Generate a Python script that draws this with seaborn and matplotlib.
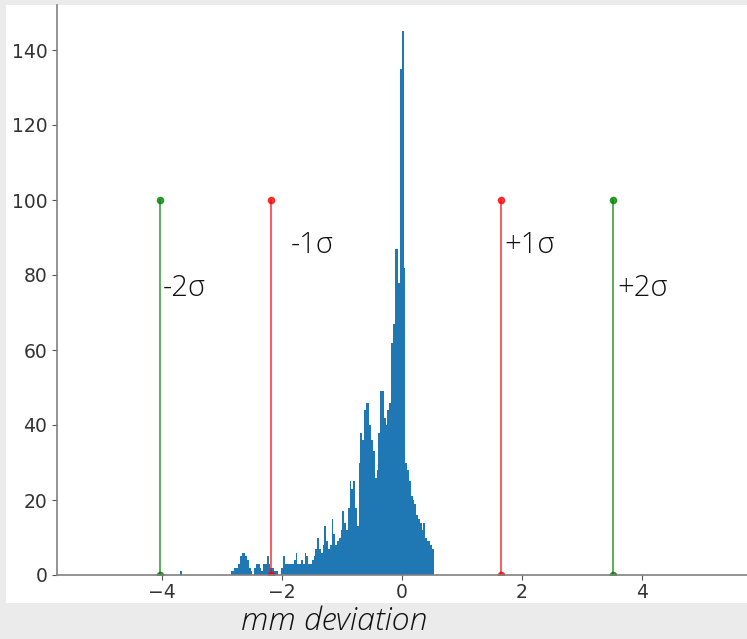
import numpy as np
import pandas as pd
import matplotlib
matplotlib.use("Agg")
import matplotlib.pyplot as plt
from matplotlib.patches import Rectangle
import seaborn as sns

# histogram: 0.03 mm bins starting at -3.695
bin_start = -3.695
bin_width = 0.03
outlier_counts = [1] + [0] * 27          # bins 0..27 (-3.695 .. -2.855)
counts = [1, 1, 2, 2, 3, 5, 6, 6, 5, 4, 2, 1, 0, 2, 3, 3, 2, 1, 3, 3,
          5, 3, 2, 2, 1, 1, 0, 0, 2, 5, 3, 3, 3, 3, 3, 4, 6, 3, 3, 4,
          3, 6, 5, 3, 3, 4, 5, 7, 10, 7, 6, 8, 13, 9, 7, 8, 15, 11, 8, 9,
          10, 12, 17, 14, 12, 18, 25, 23, 25, 18, 13, 30, 38, 36, 44, 46, 46, 40, 36, 33,
          26, 28, 38, 49, 49, 42, 40, 44, 46, 62, 67, 87, 87, 78, 135, 145, 82, 30, 28, 25,
          21, 20, 19, 16, 15, 14, 12, 14, 10, 9, 9, 8, 7]
all_counts = np.array(outlier_counts + counts, dtype=float)
n_bins = len(all_counts)
bin_end = bin_start + bin_width * n_bins
centers = bin_start + bin_width * (np.arange(n_bins) + 0.5)
hist_df = pd.DataFrame({"dev": centers, "n": all_counts})

# mean +/- 1 and 2 sigma markers
sigma_x = [-4.03, -2.18, 1.65, 3.52]
sigma_labels = ["-2σ", "-1σ", "+1σ", "+2σ"]
sigma_colors = ["green", "red", "red", "green"]
label_x = [-3.99, -1.85, 1.71, 3.59]
label_y = [76.5, 88, 88, 76.5]
line_top = 100

fig = plt.figure(figsize=(7.47, 6.39), dpi=100, facecolor="#ebebeb")
fig.patches.append(Rectangle((6 / 747, 36 / 639), 1, (603 - 5) / 639,
                             transform=fig.transFigure, facecolor="white",
                             edgecolor="none", zorder=-5))
ax = fig.add_axes([57 / 747, 64 / 639, 690 / 747, 570 / 639])
ax.set_facecolor("white")

sns.histplot(data=hist_df, x="dev", weights="n", bins=n_bins,
             binrange=(bin_start, bin_end), ax=ax,
             color="#1f77b4", alpha=1, edgecolor="none", linewidth=0)

for x, c in zip(sigma_x, sigma_colors):
    ax.plot([x, x], [0, line_top], color=c, lw=1.2, alpha=0.75,
            marker="o", ms=4.5, mec=c, mfc=c)
for lx, ly, lab in zip(label_x, label_y, sigma_labels):
    ax.text(lx, ly, lab, ha="left", va="center", fontsize=21,
            family=["Open Sans", "DejaVu Sans"], fontweight="light",
            color="#111111")

ax.set_xlim(-5.75, 5.75)
ax.set_ylim(0, 152)
ax.set_xticks([-4, -2, 0, 2, 4])
ax.set_yticks([0, 20, 40, 60, 80, 100, 120, 140])
ax.set_ylabel("")
ax.set_xlabel("")
ax.tick_params(labelsize=13.5, colors="#555555", labelcolor="#333333")
ax.tick_params(axis="x", pad=2)
for s in ["top", "right"]:
    ax.spines[s].set_visible(False)
for s in ["left", "bottom"]:
    ax.spines[s].set_color("#808080")
    ax.spines[s].set_linewidth(1.2)

fig.text(334 / 747, 1 - 621 / 639, "mm deviation", ha="center", va="center",
         fontsize=23, style="italic", fontweight="light",
         family=["Open Sans", "DejaVu Sans"], color="#111111")

fig.savefig("out.png", dpi=100, facecolor=fig.get_facecolor())
